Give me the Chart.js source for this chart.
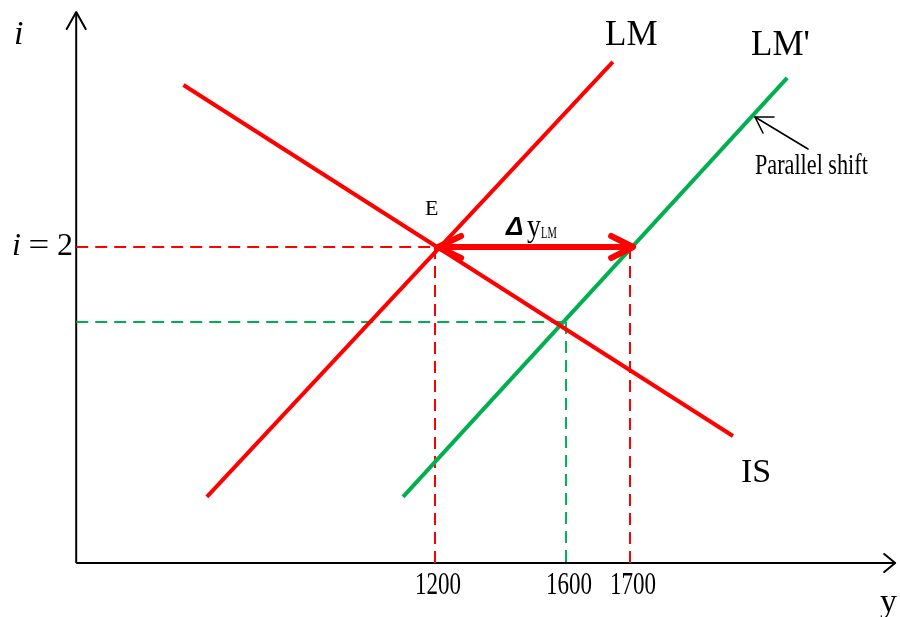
<!DOCTYPE html>
<html><head><meta charset="utf-8">
<script src="https://cdn.jsdelivr.net/npm/chart.js@4"></script>
<style>html,body{margin:0;padding:0;background:#fff}#wrap{width:900px;height:617px;position:relative}</style>
</head><body><div id="wrap"><canvas id="c"></canvas></div>
<script>
// ---- Data: income y on the horizontal axis, interest rate i on the vertical axis ----
const tickValues = [1200, 1536, 1700];
const tickLabels = ['1200', '1600', '1700'];
const isY  = [555, 1964];
const isI  = [3.025, 0.804];
const lmY  = [615, 1656];
const lmI  = [0.418, 3.171];
const lm2Y = [1118, 2103];
const lm2I = [0.418, 3.07];
const eqY = 1200, eqI = 2;        // point E
const newY = 1700;                // LM' at i = 2
const lowY = 1536, lowI = 1.525;  // IS ∩ LM'
const axisY = [280, 2380];
const axisI = [0, 3.487];
const deltaY = [1208, 1708];

const pts = (xs, ys) => xs.map((x, k) => ({x, y: ys[k]}));
const RED = '#ff0000', GREEN = '#00b050';
const SERIF = "'Liberation Serif','Times New Roman',serif";

function line(data, color, width, dash, order) {
  return {data, borderColor: color, borderWidth: width, borderDash: dash || [],
    showLine: true, fill: false, pointRadius: 0, tension: 0, order, borderCapStyle: 'butt'};
}

const datasets = [
  line(pts(isY, isI), RED, 4, null, 1),
  line(pts(lmY, lmI), RED, 4, null, 1),
  line(pts(lm2Y, lm2I), GREEN, 4, null, 2),
  line(pts([axisY[0], eqY], [eqI, eqI]), RED, 2, [12, 7], 5),
  line(pts([eqY, eqY], [eqI, -0.03]), RED, 2, [12, 7], 5),
  line(pts([newY, newY], [eqI, 0]), RED, 2, [12, 7], 5),
  line(pts([axisY[0], lowY], [lowI, lowI]), GREEN, 2, [12, 7], 5),
  line(pts([lowY, lowY], [lowI, 0]), GREEN, 2, [12, 7], 5),
  line(pts(axisY, [0, 0]), '#000', 2, null, 6),
  line(pts([axisY[0], axisY[0]], axisI), '#000', 2, null, 6)
];

function txt(ctx, s, x, y, font, sx, align) {
  ctx.save();
  ctx.font = font;
  ctx.translate(x, y);
  ctx.scale(sx || 1, 1);
  ctx.textAlign = align || 'left';
  ctx.textBaseline = 'alphabetic';
  ctx.fillStyle = '#000';
  ctx.fillText(s, 0, 0);
  ctx.restore();
}
function seg(ctx, a, b, c) {
  ctx.beginPath(); ctx.moveTo(a[0], a[1]); ctx.lineTo(b[0], b[1]);
  if (c) ctx.lineTo(c[0], c[1]);
  ctx.stroke();
}

const deco = {
  id: 'deco',
  afterDatasetsDraw(chart) {
    const ctx = chart.ctx, xs = chart.scales.x, ys = chart.scales.y;
    const X = v => xs.getPixelForValue(v), Y = v => ys.getPixelForValue(v);
    ctx.save();
    ctx.lineCap = 'round'; ctx.lineJoin = 'round';
    // axis arrowheads
    ctx.strokeStyle = '#000'; ctx.lineWidth = 2;
    const ax = X(axisY[0]), top = Y(axisI[1]);
    seg(ctx, [ax - 9.5, top + 17], [ax, top], [ax + 9.5, top + 17]);
    const rx = X(axisY[1]), ay = Y(0);
    seg(ctx, [rx - 11, ay - 9], [rx, ay], [rx - 11, ay + 9]);
    // delta arrow
    ctx.strokeStyle = RED; ctx.lineWidth = 6;
    const l = X(deltaY[0]), r = X(deltaY[1]), ym = Y(eqI);
    ctx.lineCap = 'butt';
    seg(ctx, [l + 2, ym], [r - 2, ym]);
    ctx.lineCap = 'round';
    seg(ctx, [l + 23, ym - 11], [l, ym], [l + 23, ym + 11]);
    seg(ctx, [r - 22, ym - 11], [r, ym], [r - 22, ym + 11]);
    // parallel shift pointer
    ctx.strokeStyle = '#000'; ctx.lineWidth = 1.6;
    seg(ctx, [808, 149], [755, 117]);
    seg(ctx, [774, 117], [755, 117], [763, 133]);
    ctx.restore();

    // texts
    txt(ctx, 'i', 14, 44, 'italic 34px ' + SERIF);
    txt(ctx, 'i', 12, 255, 'italic 32px ' + SERIF);
    txt(ctx, '=', 39, 255, '32px ' + SERIF, 1.15, 'center');
    txt(ctx, '2', 57, 255, '32px ' + SERIF);
    txt(ctx, 'E', 425, 215, '22px ' + SERIF);
    txt(ctx, 'LM', 605, 45, '35px ' + SERIF);
    txt(ctx, "LM'", 751, 55, '35px ' + SERIF);
    txt(ctx, 'IS', 741, 482, '34px ' + SERIF);
    txt(ctx, 'y', 880, 612, '34px ' + SERIF);
    txt(ctx, 'Parallel shift', 755, 174, '30px ' + SERIF, 0.74);
    txt(ctx, 'Δ', 506, 235, "bold italic 26px 'Liberation Sans',Arial,sans-serif");
    txt(ctx, 'y', 527, 236, '31px ' + SERIF, 0.9);
    txt(ctx, 'LM', 541, 238, '17px ' + SERIF, 0.62);
    // tick labels
    tickValues.forEach((v, k) => {
      txt(ctx, tickLabels[k], X(v) + 3, 594, '32px ' + SERIF, 0.72, 'center');
    });
  }
};

new Chart(document.getElementById('c'), {
  type: 'scatter',
  data: {datasets},
  options: {
    responsive: true, maintainAspectRatio: false, animation: false, events: [],
    layout: {padding: 0},
    plugins: {legend: {display: false}, tooltip: {enabled: false}, title: {display: false}},
    scales: {
      x: {type: 'linear', display: false, min: 84.6, max: 2392.3},
      y: {type: 'linear', display: false, min: -0.3418, max: 3.5633}
    }
  },
  plugins: [deco]
});
</script>
</body></html>
